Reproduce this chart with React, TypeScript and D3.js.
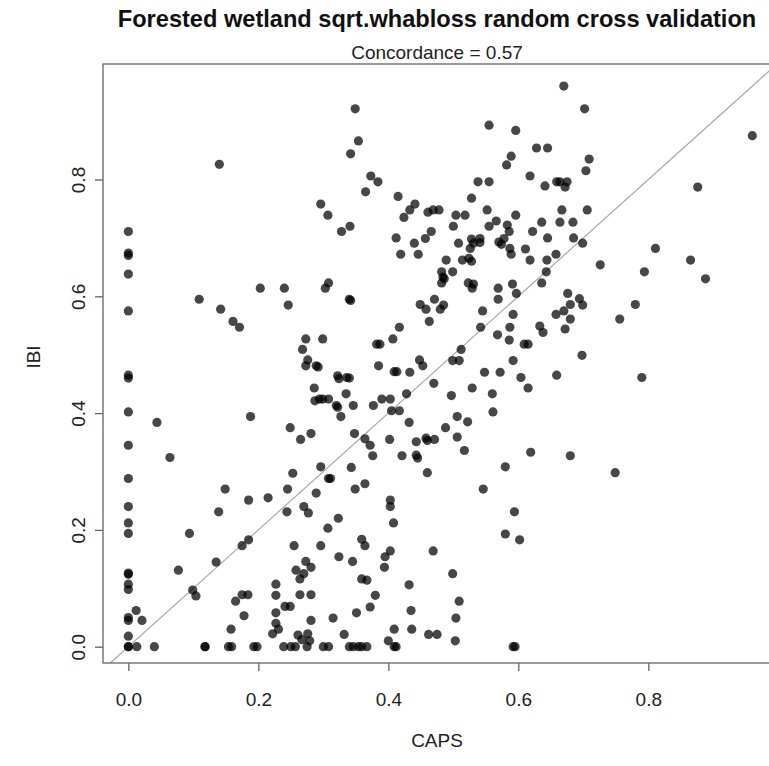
import React, { useEffect, useRef } from "react";
import * as d3 from "d3";

const caps = [
  0, 0, 0, 0, 0, 0, 0, 0, 0, 0, 0, 0, 0, 0, 0, 0, 0, 0, 0, 0, 0, 0,
  0.012, 0.021, 0.013, 0.04, 0.044, 0.064, 0.077, 0.094, 0.099, 0.104, 0.118, 0.118,
  0.109, 0.135, 0.139, 0.149, 0.14, 0.142, 0.161, 0.171, 0.185, 0.215, 0.175, 0.185,
  0.165, 0.175, 0.184, 0.178, 0.158, 0.154, 0.159, 0.193, 0.198, 0.188, 0.203, 0.24,
  0.246, 0.273, 0.268, 0.276, 0.273, 0.289, 0.292, 0.286, 0.287, 0.294, 0.308, 0.299,
  0.249, 0.265, 0.281, 0.296, 0.253, 0.245, 0.244, 0.27, 0.277, 0.289, 0.308, 0.307,
  0.255, 0.296, 0.258, 0.273, 0.281, 0.27, 0.264, 0.227, 0.227, 0.264, 0.281, 0.241,
  0.249, 0.227, 0.227, 0.231, 0.222, 0.281, 0.261, 0.276, 0.267, 0.279, 0.239, 0.25,
  0.257, 0.275, 0.3, 0.308,
  0.296, 0.307, 0.328, 0.341, 0.308, 0.303, 0.34, 0.342, 0.299, 0.322, 0.324, 0.336,
  0.34, 0.335, 0.32, 0.322, 0.346, 0.327, 0.348, 0.364, 0.372, 0.376, 0.343, 0.311,
  0.349, 0.364, 0.323, 0.359, 0.364, 0.324, 0.345, 0.359, 0.367, 0.38, 0.372, 0.351,
  0.315, 0.332, 0.34, 0.346, 0.354, 0.359, 0.367,
  0.349, 0.354, 0.342, 0.373, 0.384, 0.365, 0.415, 0.441, 0.433, 0.424, 0.461, 0.469,
  0.478, 0.412, 0.466, 0.457, 0.44, 0.419, 0.446, 0.449, 0.458, 0.471, 0.48, 0.485,
  0.463, 0.417, 0.407, 0.382, 0.387, 0.385, 0.409, 0.413, 0.433, 0.448, 0.453, 0.47,
  0.377, 0.39, 0.403, 0.428, 0.405, 0.417, 0.432, 0.402, 0.421, 0.443, 0.445, 0.443,
  0.458, 0.46, 0.471, 0.46, 0.403, 0.403, 0.408, 0.403, 0.395, 0.394, 0.469, 0.432,
  0.435, 0.409, 0.436, 0.4, 0.462, 0.475, 0.409, 0.412,
  0.555, 0.596, 0.589, 0.582, 0.628, 0.645, 0.538, 0.555, 0.618, 0.641, 0.528, 0.504,
  0.518, 0.552, 0.596, 0.566, 0.555, 0.5, 0.583, 0.586, 0.636, 0.622, 0.645, 0.508,
  0.528, 0.541, 0.531, 0.541, 0.526, 0.57, 0.574, 0.578, 0.587, 0.589, 0.611, 0.618,
  0.644, 0.489, 0.514, 0.524, 0.528, 0.482, 0.499, 0.484, 0.486, 0.482, 0.523, 0.531,
  0.529, 0.569, 0.591, 0.569, 0.597, 0.545, 0.592, 0.542, 0.587, 0.568, 0.586, 0.609,
  0.615, 0.512, 0.499, 0.509, 0.592, 0.548, 0.572, 0.604, 0.615, 0.529, 0.497, 0.56,
  0.506, 0.522, 0.561, 0.488, 0.506, 0.517, 0.619, 0.58, 0.546, 0.594, 0.58, 0.602,
  0.499, 0.509, 0.504, 0.503, 0.595, 0.592,
  0.67, 0.702, 0.96, 0.709, 0.704, 0.659, 0.664, 0.675, 0.672, 0.876, 0.667, 0.706,
  0.664, 0.684, 0.685, 0.699, 0.658, 0.811, 0.865, 0.726, 0.794, 0.888, 0.643, 0.636,
  0.676, 0.694, 0.68, 0.699, 0.67, 0.658, 0.68, 0.672, 0.633, 0.638, 0.78, 0.756,
  0.698, 0.659, 0.79, 0.68, 0.749,
];

const ibi = [
  0.711, 0.674, 0.67, 0.638, 0.575, 0.465, 0.46, 0.402, 0.345, 0.288, 0.24, 0.212,
  0.194, 0.126, 0.124, 0.107, 0.098, 0.05, 0.045, 0.018, 0, 0,
  0.062, 0.045, 0, 0, 0.384, 0.324, 0.131, 0.194, 0.097, 0.087, 0, 0,
  0.595, 0.145, 0.231, 0.27, 0.826, 0.578, 0.557, 0.547, 0.251, 0.255, 0.173, 0.183,
  0.078, 0.089, 0.089, 0.053, 0.03, 0, 0, 0, 0, 0.394, 0.614, 0.614,
  0.585, 0.527, 0.509, 0.491, 0.481, 0.481, 0.479, 0.443, 0.421, 0.424, 0.424, 0.424,
  0.375, 0.355, 0.365, 0.308, 0.297, 0.27, 0.231, 0.24, 0.229, 0.263, 0.288, 0.203,
  0.173, 0.173, 0.131, 0.146, 0.136, 0.125, 0.116, 0.107, 0.088, 0.089, 0.089, 0.069,
  0.069, 0.058, 0.04, 0.03, 0.022, 0.045, 0.02, 0.022, 0.012, 0.01, 0, 0,
  0, 0, 0, 0,
  0.758, 0.739, 0.711, 0.72, 0.623, 0.614, 0.595, 0.593, 0.527, 0.464, 0.459, 0.461,
  0.46, 0.433, 0.413, 0.41, 0.413, 0.394, 0.365, 0.356, 0.345, 0.327, 0.307, 0.288,
  0.27, 0.279, 0.22, 0.184, 0.173, 0.154, 0.146, 0.116, 0.114, 0.088, 0.068, 0.058,
  0.049, 0.021, 0, 0, 0, 0, 0,
  0.921, 0.866, 0.844, 0.806, 0.796, 0.779, 0.771, 0.758, 0.748, 0.735, 0.744, 0.748,
  0.748, 0.7, 0.711, 0.699, 0.691, 0.672, 0.672, 0.586, 0.578, 0.595, 0.578, 0.585,
  0.557, 0.547, 0.527, 0.518, 0.518, 0.481, 0.471, 0.471, 0.47, 0.491, 0.481, 0.451,
  0.413, 0.424, 0.424, 0.433, 0.404, 0.404, 0.384, 0.355, 0.327, 0.328, 0.323, 0.351,
  0.357, 0.353, 0.355, 0.298, 0.251, 0.24, 0.212, 0.164, 0.154, 0.136, 0.164, 0.106,
  0.062, 0.03, 0.03, 0.01, 0.021, 0.021, 0, 0,
  0.893, 0.884, 0.84, 0.825, 0.854, 0.854, 0.796, 0.796, 0.806, 0.789, 0.768, 0.739,
  0.739, 0.748, 0.739, 0.729, 0.72, 0.72, 0.722, 0.711, 0.727, 0.711, 0.7, 0.691,
  0.698, 0.699, 0.691, 0.692, 0.682, 0.693, 0.689, 0.699, 0.682, 0.672, 0.681, 0.662,
  0.662, 0.662, 0.662, 0.665, 0.66, 0.642, 0.642, 0.633, 0.63, 0.623, 0.623, 0.621,
  0.614, 0.614, 0.621, 0.595, 0.605, 0.575, 0.569, 0.547, 0.547, 0.534, 0.525, 0.518,
  0.518, 0.509, 0.49, 0.49, 0.49, 0.47, 0.47, 0.461, 0.443, 0.443, 0.43, 0.433,
  0.394, 0.385, 0.402, 0.375, 0.359, 0.336, 0.333, 0.308, 0.27, 0.231, 0.193, 0.183,
  0.125, 0.078, 0.049, 0.01, 0, 0,
  0.96, 0.921, 0.875, 0.835, 0.815, 0.796, 0.796, 0.796, 0.787, 0.787, 0.748, 0.748,
  0.727, 0.727, 0.7, 0.691, 0.672, 0.682, 0.662, 0.654, 0.642, 0.63, 0.642, 0.623,
  0.605, 0.596, 0.586, 0.585, 0.575, 0.569, 0.561, 0.544, 0.549, 0.538, 0.586, 0.561,
  0.499, 0.465, 0.461, 0.327, 0.298,
];

const xTicks = [0, 0.2, 0.4, 0.6, 0.8];
const yTicks = [0, 0.2, 0.4, 0.6, 0.8];
const title = "Forested wetland sqrt.whabloss random cross validation";
const subtitle = "Concordance = 0.57";
const xLabel = "CAPS";
const yLabel = "IBI";

const App = () => {
  const svgRef = useRef(null);

  useEffect(() => {
    const svg = d3.select(svgRef.current);
    svg.selectAll("*").remove();

    const font = "'Liberation Sans', Arial, Helvetica, sans-serif";
    // plot box (right edge runs past the picture, like the original)
    const box = { left: 103, right: 785, top: 64, bottom: 663 };

    const x = d3.scaleLinear().domain([-0.039, 1.0103]).range([box.left, box.right]);
    const y = d3.scaleLinear().domain([-0.0279, 0.9978]).range([box.bottom, box.top]);

    svg.append("defs")
      .append("clipPath")
      .attr("id", "plotClip")
      .append("rect")
      .attr("x", box.left)
      .attr("y", box.top)
      .attr("width", box.right - box.left)
      .attr("height", box.bottom - box.top);

    const plot = svg.append("g").attr("clip-path", "url(#plotClip)");

    // 1:1 reference line
    const [d0, d1] = x.domain();
    plot.append("line")
      .attr("x1", x(d0)).attr("y1", y(d0))
      .attr("x2", x(d1)).attr("y2", y(d1))
      .attr("stroke", "#a8a8a8")
      .attr("stroke-width", 1.2);

    const points = caps.map((c, i) => ({ c, v: ibi[i] }));
    plot.selectAll("circle")
      .data(points)
      .enter()
      .append("circle")
      .attr("cx", d => x(d.c))
      .attr("cy", d => y(d.v))
      .attr("r", 4.6)
      .attr("fill", "#000")
      .attr("fill-opacity", 0.72);

    // box
    svg.append("rect")
      .attr("x", box.left)
      .attr("y", box.top)
      .attr("width", box.right - box.left)
      .attr("height", box.bottom - box.top)
      .attr("fill", "none")
      .attr("stroke", "#666")
      .attr("stroke-width", 1.3);

    // x axis
    const gx = svg.append("g")
      .attr("transform", `translate(0, ${box.bottom})`)
      .call(d3.axisBottom(x).tickValues(xTicks).tickFormat(d3.format(".1f")).tickSize(8).tickPadding(22));
    gx.select(".domain").remove();
    gx.selectAll("line").attr("stroke", "#666").attr("stroke-width", 1.3);
    gx.selectAll("text")
      .attr("font-family", font)
      .attr("font-size", 19)
      .attr("fill", "#222");

    // y axis, labels turned like R's default las = 0
    const gy = svg.append("g")
      .attr("transform", `translate(${box.left}, 0)`)
      .call(d3.axisLeft(y).tickValues(yTicks).tickFormat(d3.format(".1f")).tickSize(8));
    gy.select(".domain").remove();
    gy.selectAll("line").attr("stroke", "#666").attr("stroke-width", 1.3);
    gy.selectAll("text")
      .attr("x", null)
      .attr("dy", null)
      .attr("text-anchor", "middle")
      .attr("transform", "translate(-18, 0) rotate(-90)")
      .attr("font-family", font)
      .attr("font-size", 19)
      .attr("fill", "#222");

    // titles
    svg.append("text")
      .attr("x", 437)
      .attr("y", 27)
      .attr("text-anchor", "middle")
      .attr("font-family", font)
      .attr("font-size", 23.6)
      .attr("font-weight", "bold")
      .attr("fill", "#111")
      .text(title);

    svg.append("text")
      .attr("x", 437)
      .attr("y", 59)
      .attr("text-anchor", "middle")
      .attr("font-family", font)
      .attr("font-size", 19)
      .attr("fill", "#222")
      .text(subtitle);

    svg.append("text")
      .attr("x", 437)
      .attr("y", 747)
      .attr("text-anchor", "middle")
      .attr("font-family", font)
      .attr("font-size", 19)
      .attr("fill", "#222")
      .text(xLabel);

    svg.append("text")
      .attr("transform", `translate(40, 357) rotate(-90)`)
      .attr("text-anchor", "middle")
      .attr("font-family", font)
      .attr("font-size", 19)
      .attr("fill", "#222")
      .text(yLabel);
  }, []);

  return (
    <svg
      ref={svgRef}
      width={769}
      height={766}
      style={{ position: "absolute", left: 0, top: 0, background: "#fff" }}
    />
  );
};

export default App;
